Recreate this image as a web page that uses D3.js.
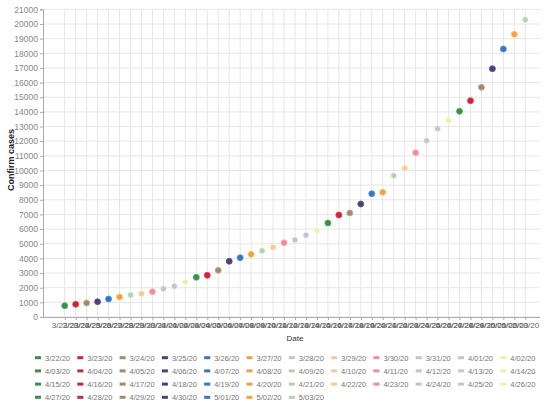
<!DOCTYPE html>
<html><head><meta charset="utf-8">
<script src="https://cdn.jsdelivr.net/npm/d3@7"></script>
<style>
body{margin:0;background:#fff;}
svg{display:block;font-family:"Liberation Sans",Arial,sans-serif;}
</style></head>
<body><svg id="c" width="545" height="410"></svg>
<script>
const dates = ["3/22/20","3/23/20","3/24/20","3/25/20","3/26/20","3/27/20","3/28/20","3/29/20","3/30/20","3/31/20",
"4/01/20","4/02/20","4/03/20","4/04/20","4/05/20","4/06/20","4/07/20","4/08/20","4/09/20","4/10/20",
"4/11/20","4/12/20","4/13/20","4/14/20","4/15/20","4/16/20","4/17/20","4/18/20","4/19/20","4/20/20",
"4/21/20","4/22/20","4/23/20","4/24/20","4/25/20","4/26/20","4/27/20","4/28/20","4/29/20","4/30/20",
"5/01/20","5/02/20","5/03/20"];
const cases = [770,867,956,1044,1229,1365,1502,1590,1727,1932,
2095,2389,2710,2846,3188,3802,4048,4280,4526,4758,
5072,5256,5577,5890,6416,6962,7099,7713,8416,8512,
9645,10150,11215,12034,12853,13427,14041,14765,15679,16950,
18294,19297,20294];
const yTicks = d3.range(0, 21001, 1000);
const palette = ["#3a8f4a","#c8283c","#a08a70","#4a4476","#3a74bc","#eea048",
"#b8ccb8","#f6c89c","#ee8c9a","#c4c4c8","#c4c4d8","#eeeeb0"];

const svg = d3.select("#c");
const L = 43, R = 540, B = 317;
const x = d3.scalePoint().domain(dates).range([64.7, 525.3]);
const y = d3.scaleLinear().domain([0, 21000]).range([B, B - 21000*14.65/1000]);
const color = d3.scaleOrdinal().domain(dates).range(palette);

const g = svg.append("g");
g.append("g").selectAll("line").data(yTicks).join("line")
  .attr("x1", L).attr("x2", R).attr("y1", d=>y(d)).attr("y2", d=>y(d))
  .attr("stroke", "#e6e6e6").attr("stroke-width", 1);
g.append("g").selectAll("line").data(dates).join("line")
  .attr("x1", d=>x(d)).attr("x2", d=>x(d)).attr("y1", y(21000)).attr("y2", B)
  .attr("stroke", "#e6e6e6").attr("stroke-width", 1);

const yAxis = d3.axisLeft(y).tickValues(yTicks).tickSize(3).tickPadding(2).tickFormat(d3.format("d"));
const ya = svg.append("g").attr("transform", `translate(${L},0)`).call(yAxis);
ya.selectAll("text").attr("fill", "#888").style("font-size", "8.5px");
ya.selectAll("line").attr("stroke", "#aaa");
ya.select(".domain").attr("stroke", "#aaa");

const xAxis = d3.axisBottom(x).tickSize(3).tickPadding(2);
const xa = svg.append("g").attr("transform", `translate(0,${B})`).call(xAxis);
xa.selectAll("text").attr("fill", "#666").style("font-size", "8px");
xa.selectAll("line").attr("stroke", "#aaa");
xa.select(".domain").attr("d", `M${L},0.5H${R}`).attr("stroke", "#aaa");

svg.append("text").attr("x", 295).attr("y", 341).attr("text-anchor", "middle")
  .style("font-size", "8px").attr("fill", "#333").text("Date");
svg.append("text").attr("transform", `translate(14,160) rotate(-90)`).attr("text-anchor", "middle")
  .style("font-size", "9px").style("font-weight", "bold").attr("fill", "#222").text("Confirm cases");

svg.append("g").selectAll("circle").data(dates).join("circle")
  .attr("cx", d=>x(d)).attr("cy", (d,i)=>y(cases[i])).attr("r", 3)
  .attr("fill", d=>color(d)).attr("stroke", d=>d3.color(color(d)).brighter(0.6)).attr("stroke-width", 0.8);

const leg = svg.append("g");
const item = leg.selectAll("g").data(dates).join("g")
  .attr("transform", (d,i)=>`translate(${35 + (i%12)*42.3},${357.7 + Math.floor(i/12)*13.2})`);
item.append("rect").attr("x", 0).attr("y", -1.5).attr("width", 6).attr("height", 3).attr("fill", d=>color(d));
item.append("text").attr("x", 10).attr("y", 2.8).style("font-size", "7.5px").attr("fill", "#777").text(d=>d);
</script></body></html>
